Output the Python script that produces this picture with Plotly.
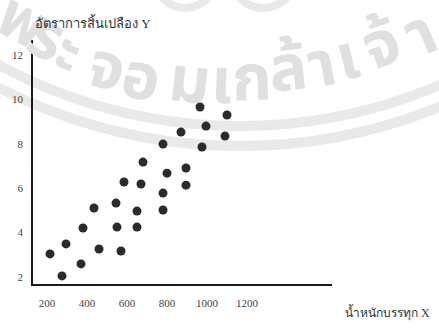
import math
import plotly.graph_objects as go

# Load weight (X) versus consumption rate (Y)
load_weight = [215, 275, 295, 370, 380, 435, 460, 545, 550, 570, 585, 650, 650, 670,
               680, 780, 780, 800, 780, 870, 895, 895, 965, 995, 975, 1100, 1090]
consumption = [3.04, 2.05, 3.49, 2.59, 4.21, 5.11, 3.26, 5.33, 4.25, 3.17, 6.28, 4.25,
               4.97, 6.19, 7.18, 5.02, 5.78, 6.68, 7.99, 8.53, 6.14, 6.91, 9.66, 8.80,
               7.86, 9.30, 8.35]

x_ticks = [200, 400, 600, 800, 1000, 1200]
y_ticks = [2, 4, 6, 8, 10, 12]

y_title = "อัตราการสิ้นเปลือง Y"
x_title = "น้ำหนักบรรทุก X"
seal_text = ["พ", "ร", "ะ", "จ", "อ", "ม", "เ", "ก", "ล้", "า", "เ", "จ้", "า"]

W, H = 439, 329
L, R, T, B = 33, 107, 40, 45
PW, PH = W - L - R, H - T - B


def px(x):
    return (x - L) / PW


def py(y):
    return (H - B - y) / PH


fig = go.Figure()
fig.add_trace(go.Scatter(
    x=load_weight, y=consumption, mode="markers",
    marker=dict(size=9, color="#2b2b2b", line=dict(width=0)),
    hoverinfo="x+y", showlegend=False,
))

# faint library seal in the background
shapes = []
cx, cy = 240, -381
for rad in (507, 527):
    shapes.append(dict(type="circle", xref="paper", yref="paper", layer="below",
                       x0=px(cx - rad), x1=px(cx + rad), y0=py(cy + rad), y1=py(cy - rad),
                       line=dict(color="#e9e9e9", width=10), fillcolor="rgba(0,0,0,0)"))
for (ccx, ccy, rad) in ((185, -22, 30), (263, -24, 32)):
    shapes.append(dict(type="circle", xref="paper", yref="paper", layer="below",
                       x0=px(ccx - rad), x1=px(ccx + rad), y0=py(ccy + rad), y1=py(ccy - rad),
                       line=dict(color="#e9e9e9", width=8), fillcolor="rgba(0,0,0,0)"))

annotations = []
glyph_pos = [(22, 22), (46, 38), (68, 52), (107, 69), (141, 79), (189, 82), (222, 83),
             (252, 80), (288, 70), (322, 66), (348, 59), (382, 46), (421, 35)]
for ch, (gx, gy) in zip(seal_text, glyph_pos):
    ang = math.degrees(math.atan2(cx - gx, gy - cy))
    annotations.append(dict(text="<b>" + ch + "</b>", xref="paper", yref="paper",
                            x=px(gx), y=py(gy),
                            xanchor="center", yanchor="middle", showarrow=False,
                            textangle=ang,
                            font=dict(family="Noto Sans Thai, Noto Sans, sans-serif",
                                      size=64, color="#e0e0e0")))

annotations.append(dict(text=y_title, xref="paper", yref="paper", x=px(33), y=py(22),
                        xanchor="left", yanchor="middle", showarrow=False,
                        font=dict(family="Liberation Serif, serif", size=13, color="#333")))
annotations.append(dict(text=x_title, xref="paper", yref="paper", x=px(343), y=py(312),
                        xanchor="left", yanchor="middle", showarrow=False,
                        font=dict(family="Liberation Serif, serif", size=12, color="#333")))

fig.update_layout(
    width=W, height=H,
    margin=dict(l=L, r=R, t=T, b=B),
    paper_bgcolor="white", plot_bgcolor="rgba(0,0,0,0)",
    shapes=shapes, annotations=annotations,
    font=dict(family="Liberation Serif, serif", size=10, color="#444"),
)
fig.update_xaxes(range=[130, 1625], tickvals=x_ticks, showgrid=False, zeroline=False,
                 showline=True, linecolor="#1a1a1a", linewidth=1.8, ticks="",
                 ticklabelstandoff=8, tickfont=dict(size=11, color="#444"))
fig.update_yaxes(range=[1.685, 12.68], tickvals=y_ticks, showgrid=False, zeroline=False,
                 showline=True, linecolor="#1a1a1a", linewidth=1.8, ticks="",
                 ticklabelstandoff=6, tickfont=dict(size=11, color="#444"))

fig.write_html("out.html")
